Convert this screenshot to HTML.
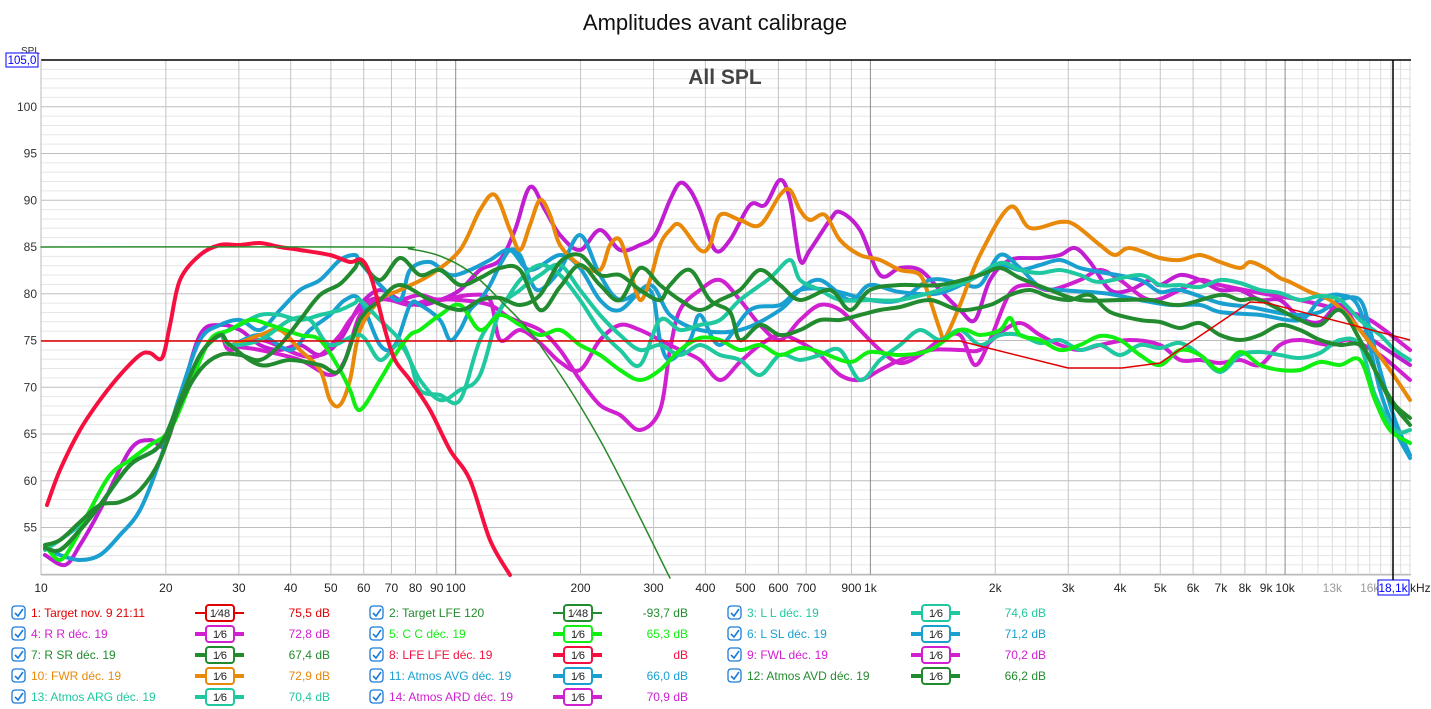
<!DOCTYPE html>
<html><head><meta charset="utf-8"><style>
body{margin:0;background:#fff;font-family:"Liberation Sans",sans-serif;}
#w{position:relative;width:1431px;height:709px;overflow:hidden}
svg{position:absolute;left:0;top:0}
</style></head><body><div id="w"><svg id="s" width="1431" height="709" xmlns="http://www.w3.org/2000/svg"></svg></div>
<script>
const S=document.getElementById('s');let h='';
const X0=41,XD=414.7,Y0=60,YD=9.35;
const fx=f=>X0+(Math.log10(f)-1)*XD, fy=d=>Y0+(105-d)*YD;
// grid
for(let d=50;d<=105;d++){let y=fy(d);h+=`<line x1="${X0}" x2="1411" y1="${y}" y2="${y}" stroke="${d%5?'#e6e6e6':'#bdbdbd'}" stroke-width="1"/>`;}
let fs=[];for(let e=1;e<=3;e++)for(let k=1;k<=9;k++)fs.push(k*Math.pow(10,e));for(let k=10;k<=20;k++)fs.push(k*1000);
fs.forEach(f=>{let x=fx(f);let maj=(f==100||f==1000||f==10000);let light=f>10000;h+=`<line x1="${x}" x2="${x}" y1="60" y2="575" stroke="${maj?'#8c8c8c':(light?'#dcdcdc':'#c4c4c4')}"/>`;});
h+=`<line x1="${X0}" x2="1411" y1="60" y2="60" stroke="#000" stroke-width="1.5"/>`;
h+=`<line x1="${X0}" x2="${X0}" y1="60" y2="575" stroke="#bbb"/>`;
h+=`<line x1="${X0}" x2="1411" y1="575" y2="575" stroke="#bbb"/>`;
// y labels
for(let d=55;d<=100;d+=5)h+=`<text x="37" y="${fy(d)+4}" font-size="12" text-anchor="end" fill="#333">${d}</text>`;
h+=`<text x="21" y="54" font-size="10" fill="#333">SPL</text><rect x="6" y="53" width="32" height="14" fill="#fff" stroke="#00f"/><text x="22" y="64" font-size="11.5" text-anchor="middle" fill="#00f">105,0</text>`;
// x labels
const xl=[[10,'10'],[20,'20'],[30,'30'],[40,'40'],[50,'50'],[60,'60'],[70,'70'],[80,'80'],[90,'90'],[100,'100'],[200,'200'],[300,'300'],[400,'400'],[500,'500'],[600,'600'],[700,'700'],[900,'900'],[1000,'1k'],[2000,'2k'],[3000,'3k'],[4000,'4k'],[5000,'5k'],[6000,'6k'],[7000,'7k'],[8000,'8k'],[9000,'9k'],[10000,'10k']];
xl.forEach(([f,t])=>h+=`<text x="${fx(f)}" y="592" font-size="12" text-anchor="middle" fill="#222">${t}</text>`);
h+=`<text x="${fx(13000)}" y="592" font-size="12" text-anchor="middle" fill="#999">13k</text><text x="${fx(16000)}" y="592" font-size="12" text-anchor="middle" fill="#999">16k</text>`;
h+=`<rect x="1378" y="580" width="31" height="15" fill="#fff" stroke="#00f"/><text x="1393" y="592" font-size="12" text-anchor="middle" fill="#00f">18,1k</text><text x="1410" y="592" font-size="12" fill="#222">kHz</text>`;
h+=`<text x="715" y="30" font-size="22" text-anchor="middle" fill="#111">Amplitudes avant calibrage</text>`;
h+=`<text x="725" y="84" font-size="21" font-weight="bold" text-anchor="middle" fill="#444">All SPL</text>`;
function path(p,c,w){let d=`M${p[0][0]},${p[0][1]}`;for(let i=0;i<p.length-1;i++){let a=p[Math.max(i-1,0)],b=p[i],e=p[i+1],g=p[Math.min(i+2,p.length-1)];d+=`C${b[0]+(e[0]-a[0])/6},${b[1]+(e[1]-a[1])/6} ${e[0]-(g[0]-b[0])/6},${e[1]-(g[1]-b[1])/6} ${e[0]},${e[1]}`;}h+=`<path d="${d}" fill="none" stroke="${c}" stroke-width="${w}" stroke-linejoin="round" stroke-linecap="round"/>`;}
const P=s=>s.trim().split(/\)\s*,?\s*\(/).map(t=>t.replace(/[()]/g,'').split(',').map(Number));
const low=`(45,548),(60,550),(80,530),(100,505),(130,465),(160,445),(180,400),(200,355),(220,335)`;
const series=[
['#c01ed0',`(45,555),(65,565),(80,545),(100,510),(130,450),(150,440),(165,445),(180,400),(200,335),(220,325),(240,330),(260,345),(280,350),(300,345),(320,355),(340,340),(360,305),(380,290),(400,300),(420,305),(440,300),(460,290),(480,270),(500,260),(515,230),(530,187),(545,210),(560,235),(580,250),(600,230),(620,250),(640,245),(655,235),(670,200),(680,183),(690,190),(700,210),(715,250),(730,240),(750,205),(765,205),(780,180),(790,200),(800,260),(810,250),(830,220),(840,212),(860,230),(880,275),(900,268),(920,270),(940,290),(960,310),(975,320),(990,280),(1010,260),(1040,258),(1060,255),(1075,248),(1090,262),(1110,290),(1130,290),(1150,280),(1160,285),(1180,275),(1200,280),(1220,290),(1240,290),(1260,300),(1280,300),(1300,318),(1320,322),(1340,305),(1360,330),(1380,345),(1410,365)`],
['#d020d0',low+`,(230,350),(260,340),(300,355),(320,355),(340,335),(350,320),(370,300),(390,300),(410,305),(430,300),(460,300),(490,305),(510,318),(540,330),(560,350),(580,380),(600,405),(620,415),(640,430),(660,410),(670,350),(680,310),(700,290),(720,280),(740,300),(760,325),(780,340),(800,320),(820,305),(840,310),(860,330),(880,350),(900,363),(920,355),(940,340),(960,335),(975,365),(990,340),(1010,293),(1030,285),(1050,290),(1080,280),(1100,270),(1120,280),(1150,300),(1180,290),(1200,280),(1220,285),(1260,293),(1300,300),(1340,310),(1370,320),(1410,350)`],
['#d020d0',low+`,(230,345),(260,350),(300,360),(330,375),(345,360),(360,315),(380,300),(400,300),(420,295),(440,300),(470,295),(490,300),(500,340),(520,330),(540,343),(560,362),(580,370),(600,340),(620,325),(640,330),(660,340),(680,350),(700,360),(720,380),(740,362),(760,345),(780,335),(800,342),(820,355),(840,375),(860,380),(880,370),(900,360),(930,350),(960,350),(980,350),(1000,333),(1020,323),(1040,335),(1060,345),(1080,350),(1100,345),(1130,340),(1160,345),(1180,360),(1200,360),(1220,363),(1240,360),(1260,365),(1280,345),(1300,340),(1330,345),(1350,340),(1380,355),(1410,380)`],
['#1aa0d0',`(45,548),(60,555),(80,560),(100,555),(120,535),(140,510),(160,460),(180,395),(200,340),(220,325),(240,320),(260,330),(280,310),(300,290),(320,280),(340,260),(355,255),(360,262),(380,285),(400,300),(410,270),(430,262),(450,275),(470,270),(490,260),(510,250),(530,270),(560,255),(580,268),(600,300),(620,310),(650,285),(670,315),(700,330),(740,330),(780,310),(800,290),(820,280),(850,300),(870,285),(900,292),(940,293),(980,275),(1000,265),(1020,270),(1040,265),(1060,260),(1080,268),(1100,272),(1140,280),(1160,292),(1180,290),(1220,303),(1250,307),(1280,313),(1300,315),(1320,312),(1340,300),(1360,300),(1370,330),(1380,370),(1395,420),(1410,455)`],
['#1aa0d0',low+`,(230,345),(260,335),(290,350),(310,330),(330,315),(345,300),(360,300),(380,345),(395,345),(410,305),(420,305),(440,320),(450,340),(460,330),(470,310),(480,300),(490,285),(500,265),(510,250),(520,255),(530,280),(540,290),(560,270),(580,235),(600,275),(620,300),(650,290),(660,340),(670,360),(690,340),(700,315),(720,345),(750,310),(780,305),(800,290),(830,290),(870,300),(900,300),(930,280),(960,283),(980,285),(1000,255),(1020,268),(1040,287),(1060,290),(1090,292),(1110,294),(1140,300),(1170,305),(1200,305),(1220,312),(1260,315),(1300,320),(1320,300),(1340,295),(1360,310),(1380,390),(1395,430),(1410,458)`],
['#e8890a',low+`,(230,345),(260,335),(280,330),(300,350),(320,370),(330,400),(340,405),(350,380),(360,330),(380,300),(400,290),(430,275),(460,250),(480,210),(495,195),(510,230),(520,250),(530,225),(540,200),(550,215),(560,245),(580,265),(600,270),(610,245),(620,240),(630,270),(640,300),(650,280),(660,245),(670,230),(680,225),(700,250),(710,245),(720,215),(740,220),(760,225),(780,195),(790,190),(800,210),(810,220),(825,215),(840,240),(860,255),(880,260),(900,270),(920,275),(930,300),(940,330),(945,338),(960,305),(980,255),(1010,207),(1030,228),(1060,222),(1075,225),(1100,245),(1115,255),(1130,248),(1160,258),(1180,260),(1200,255),(1220,262),(1240,268),(1250,262),(1265,268),(1280,278),(1290,282),(1310,292),(1330,300),(1350,318),(1370,343),(1390,370),(1410,400)`],
['#20c8a0',`(45,550),(60,540),(80,525),(100,505),(130,465),(160,445),(180,400),(200,355),(220,335),(240,325),(260,315),(280,315),(300,320),(320,315),(340,310),(355,303),(360,300),(380,320),(400,340),(410,360),(420,390),(440,395),(460,400),(480,340),(500,310),(520,280),(540,265),(560,275),(580,300),(600,330),(620,350),(640,365),(660,320),(680,330),(700,325),(720,320),(740,300),(770,278),(790,260),(800,280),(820,290),(840,300),(870,300),(900,300),(940,290),(970,280),(1000,263),(1020,270),(1040,273),(1060,270),(1080,275),(1100,282),(1140,275),(1160,285),(1180,285),(1200,287),(1220,280),(1240,283),(1260,290),(1280,293),(1300,300),(1320,296),(1340,300),(1360,320),(1380,335),(1395,350),(1410,360)`],
['#20c8a0',low+`,(230,345),(260,340),(290,320),(310,320),(330,345),(360,335),(380,360),(400,345),(420,380),(440,400),(460,390),(480,375),(500,310),(520,290),(540,275),(560,265),(580,290),(600,315),(620,335),(640,350),(660,345),(680,355),(700,345),(720,355),(740,360),(760,375),(780,355),(800,360),(820,355),(840,350),(860,380),(880,360),(900,345),(920,330),(940,340),(960,330),(980,345),(1000,335),(1020,335),(1040,343),(1060,340),(1080,350),(1100,345),(1120,355),(1140,345),(1160,348),(1180,343),(1200,355),(1220,372),(1240,355),(1260,352),(1280,355),(1300,358),(1320,353),(1340,340),(1360,345),(1375,395),(1395,430),(1410,430)`],
['#11ee11',`(45,545),(60,560),(75,540),(90,510),(110,475),(130,460),(150,445),(170,430),(190,385),(210,340),(230,330),(250,320),(270,325),(300,335),(320,340),(340,370),(350,390),(360,410),(380,380),(395,355),(410,335),(420,330),(440,315),(460,305),(480,330),(500,315),(520,325),(540,335),(560,330),(580,345),(600,355),(620,370),(640,380),(660,370),(680,350),(700,338),(720,340),(740,350),(760,345),(780,355),(800,348),(820,352),(850,362),(870,352),(900,355),(930,350),(960,330),(980,335),(1000,330),(1010,318),(1020,335),(1040,340),(1060,350),(1080,345),(1100,336),(1120,340),(1140,355),(1160,365),(1180,350),(1200,355),(1220,370),(1240,352),(1260,365),(1280,370),(1300,370),(1320,362),(1340,365),(1360,360),(1375,400),(1390,430),(1410,443)`],
['#238b2f',`(45,545),(60,540),(80,522),(100,505),(120,502),(140,490),(160,460),(180,405),(200,370),(220,355),(240,355),(260,360),(280,345),(300,320),(320,295),(340,284),(355,268),(360,262),(380,280),(400,258),(420,275),(440,270),(460,285),(480,278),(500,268),(520,270),(540,310),(560,287),(580,265),(600,285),(620,300),(640,268),(660,285),(680,300),(700,310),(720,300),(740,290),(760,270),(780,285),(800,300),(830,290),(850,310),(870,290),(900,285),(940,285),(980,275),(1000,268),(1020,278),(1050,290),(1080,300),(1120,300),(1150,300),(1180,305),(1220,295),(1240,300),(1260,300),(1300,320),(1320,325),(1340,310),(1360,340),(1380,380),(1395,405),(1410,418)`],
['#238b2f',low+`,(230,345),(260,365),(290,360),(320,365),(340,370),(360,320),(380,300),(400,285),(430,300),(460,310),(480,300),(500,298),(520,305),(540,295),(560,262),(580,255),(600,275),(620,275),(640,290),(660,300),(670,285),(690,270),(710,300),(730,312),(740,340),(760,325),(780,335),(800,330),(820,320),(840,320),(860,315),(880,310),(900,307),(930,300),(960,310),(990,305),(1010,295),(1030,290),(1050,297),(1070,300),(1090,295),(1110,312),(1140,320),(1160,322),(1180,328),(1200,323),(1220,335),(1240,340),(1260,335),(1280,325),(1300,330),(1320,340),(1340,345),(1360,345),(1375,370),(1390,400),(1410,425)`],
['#f5103f',`(47,505),(60,470),(80,430),(100,400),(120,375),(140,355),(150,353),(162,358),(170,325),(180,280),(200,255),(220,245),(240,245),(260,243),(280,247),(300,250),(330,255),(350,262),(362,260),(372,280),(385,330),(395,360),(410,380),(430,410),(450,450),(470,480),(490,540),(510,575)`]
];
series.forEach(([c,s])=>path(P(s),c,4));
// thin targets
h+=`<polyline points="41,341 960,341 1068,368 1122,368 1160,363 1250,302 1267,303 1410,340" fill="none" stroke="#e00000" stroke-width="1.5"/>`;
path(P(`(41,247),(380,247),(410,249),(440,256),(470,272),(500,300),(540,345),(600,440),(670,578)`),'#2a8a2a',1.5);
h+=`<line x1="1393" x2="1393" y1="60" y2="580" stroke="#000" stroke-width="1.5"/>`;
// legend
const L=[
[0,0,'1: Target nov. 9 21:11','#e00000','75,5 dB','48',1],[1,0,'2: Target LFE 120','#238b2f','-93,7 dB','48',1],[2,0,'3: L L déc. 19','#20c8a0','74,6 dB','6'],
[0,1,'4: R R déc. 19','#d020d0','72,8 dB','6'],[1,1,'5: C C déc. 19','#11ee11','65,3 dB','6'],[2,1,'6: L SL déc. 19','#1aa0d0','71,2 dB','6'],
[0,2,'7: R SR déc. 19','#238b2f','67,4 dB','6'],[1,2,'8: LFE LFE déc. 19','#f5103f','dB','6'],[2,2,'9: FWL déc. 19','#d020d0','70,2 dB','6'],
[0,3,'10: FWR déc. 19','#e8890a','72,9 dB','6'],[1,3,'11: Atmos AVG déc. 19','#1aa0d0','66,0 dB','6'],[2,3,'12: Atmos AVD déc. 19','#238b2f','66,2 dB','6'],
[0,4,'13: Atmos ARG déc. 19','#20c8a0','70,4 dB','6'],[1,4,'14: Atmos ARD déc. 19','#d020d0','70,9 dB','6']];
const CX=[11,369,727];
L.forEach(([c,r,t,col,v,fr,thin])=>{let x=CX[c],y=613+r*21;
h+=`<rect x="${x+1}" y="${y-7}" width="13" height="13" rx="3" fill="#fff" stroke="#1a7ad8" stroke-width="1.3"/><path d="M${x+4},${y} l3,3 l5,-7" fill="none" stroke="#1a7ad8" stroke-width="1.6"/>`;
h+=`<text x="${x+20}" y="${y+4}" font-size="12" fill="${col}">${t}</text>`;
let bx=x+184;h+=`<line x1="${bx}" x2="${bx+49}" y1="${y}" y2="${y}" stroke="${col}" stroke-width="${thin?2:4}"/><rect x="${bx+11}" y="${y-8}" width="28" height="16" rx="3" fill="#fff" stroke="${col}" stroke-width="2"/><text x="${bx+25}" y="${y+4}" font-size="11" text-anchor="middle" fill="#222">1⁄${fr}</text>`;
h+=`<text x="${x+319}" y="${y+4}" font-size="12" text-anchor="end" fill="${col}">${v}</text>`;});
S.innerHTML=h;
</script></body></html>
